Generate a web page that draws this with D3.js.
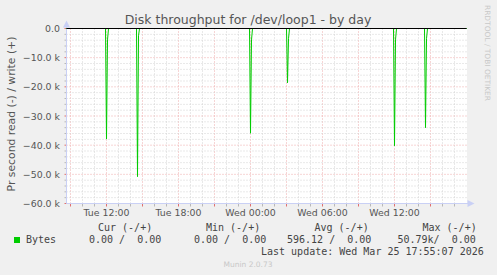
<!DOCTYPE html>
<html><head><meta charset="utf-8">
<script src="https://cdn.jsdelivr.net/npm/d3@7"></script>
<style>html,body{margin:0;padding:0;background:#F0F0F0;}svg{display:block;}text{white-space:pre;}</style>
</head><body>
<script>
// ---- data ----
const title = "Disk throughput for /dev/loop1 - by day";
const yTitle = "Pr second read (-) / write (+)";
const timeDomain = ["2026-03-24T08:40", "2026-03-25T18:00"];
const readTimes = [
  "2026-03-24T08:40",
  "2026-03-24T11:55","2026-03-24T12:00","2026-03-24T12:05","2026-03-24T12:10",
  "2026-03-24T14:30","2026-03-24T14:35","2026-03-24T14:40","2026-03-24T14:45",
  "2026-03-24T23:55","2026-03-25T00:00","2026-03-25T00:05","2026-03-25T00:10",
  "2026-03-25T03:00","2026-03-25T03:05","2026-03-25T03:10","2026-03-25T03:15",
  "2026-03-25T11:55","2026-03-25T12:00","2026-03-25T12:05","2026-03-25T12:10",
  "2026-03-25T14:30","2026-03-25T14:35","2026-03-25T14:40","2026-03-25T14:45",
  "2026-03-25T18:00"
];
const readValues = [
  0,
  0, -37900, -3900, 0,
  0, -50790, -2500, 0,
  0, -35900, -3900, 0,
  0, -18600, -3500, 0,
  0, -40200, -3900, 0,
  0, -34000, -3500, 0,
  0
];
const writeTimes = ["2026-03-24T08:40", "2026-03-25T18:00"];
const writeValues = [0, 0];
const yTicks = [0, -10000, -20000, -30000, -40000, -50000, -60000];
const xTickLabels = ["2026-03-24T12:00","2026-03-24T18:00","2026-03-25T00:00","2026-03-25T06:00","2026-03-25T12:00"];
const seriesName = "Bytes";
const legendHeaders = ["Cur (-/+)", "Min (-/+)", "Avg (-/+)", "Max (-/+)"];
const legendValues = ["0.00 /  0.00", "0.00 /  0.00", "596.12 /  0.00", "50.79k/  0.00"];
const lastUpdate = "Last update: Wed Mar 25 17:55:07 2026";
const footer = "Munin 2.0.73";
const watermark = "RRDTOOL / TOBI OETIKER";

// ---- drawing ----
const W = 497, H = 275;
const L = 66.5, R = 466.5, T = 28.5, B = 203.5;
const svg = d3.select("body").append("svg").attr("width", W).attr("height", H);
svg.append("rect").attr("width", W).attr("height", H).attr("fill", "#F0F0F0");

const parse = s => new Date(s);
const x = d3.scaleTime().domain(timeDomain.map(parse)).range([L, R]);
const y = d3.scaleLinear().domain([-60000, 0]).range([B, T]);

svg.append("rect").attr("x", 67).attr("y", 28).attr("width", 400).attr("height", 176).attr("fill", "#FFFFFF");

const minorCol = "#d2d2d2", majorCol = "#eeaaaa", axisCol = "#c9d0f5";
const g = svg.append("g");
const hours = d3.timeHour.every(1).range(x.domain()[0], x.domain()[1]);
hours.forEach(h => {
  const major = h.getHours() % 3 === 0;
  const xp = Math.round(x(h) - 0.5) + 0.5;
  g.append("line").attr("x1", xp).attr("x2", xp).attr("y1", T).attr("y2", B)
    .attr("stroke", major ? majorCol : minorCol).attr("stroke-dasharray", "1,2");
  g.append("line").attr("x1", xp).attr("x2", xp).attr("y1", B).attr("y2", B + 3)
    .attr("stroke", major ? "#e07070" : "#b8b8b8");
});
d3.range(-60000, 1, 2000).forEach(v => {
  const major = v % 10000 === 0;
  const yp = y(v);
  g.append("line").attr("x1", L).attr("x2", R).attr("y1", yp).attr("y2", yp)
    .attr("stroke", major ? majorCol : minorCol).attr("stroke-dasharray", "1,2");
  g.append("line").attr("x1", L - 2).attr("x2", L).attr("y1", yp).attr("y2", yp)
    .attr("stroke", major ? "#e07070" : "#b8b8b8");
});

svg.append("line").attr("x1", L).attr("x2", L).attr("y1", T - 2).attr("y2", B).attr("stroke", axisCol);
svg.append("line").attr("x1", L).attr("x2", R + 3).attr("y1", B).attr("y2", B).attr("stroke", axisCol);
svg.append("path").attr("d", `M${L - 3.5},${T - 1} L${L + 3.5},${T - 1} L${L},${T - 8} Z`).attr("fill", axisCol);
svg.append("path").attr("d", `M${R + 1},${B - 3.5} L${R + 1},${B + 3.5} L${R + 8},${B} Z`).attr("fill", axisCol);

const line = d3.line().x(d => x(d[0])).y(d => y(d[1]));
const readData = readTimes.map((t, i) => [parse(t), readValues[i]]);
const writeData = writeTimes.map((t, i) => [parse(t), writeValues[i]]);
svg.append("path").datum(readData).attr("d", line).attr("fill", "none").attr("stroke", "#00CC00").attr("stroke-width", 1);
svg.append("path").datum(writeData).attr("d", line).attr("fill", "none").attr("stroke", "#00CC00").attr("stroke-width", 1);
svg.append("line").attr("x1", L).attr("x2", R).attr("y1", y(0)).attr("y2", y(0)).attr("stroke", "#000").attr("stroke-width", 1);

const fmtY = v => v === 0 ? "0.0" : d3.format(".1f")(v / 1000) + " k";
svg.selectAll(".yl").data(yTicks).enter().append("text")
  .attr("x", 60).attr("y", d => y(d) + 3.5).attr("text-anchor", "end")
  .attr("font-family", "DejaVu Sans").attr("font-size", 9.4).attr("fill", "#555")
  .text(fmtY);
const fmtX = d3.timeFormat("%a %H:%M");
svg.selectAll(".xl").data(xTickLabels.map(parse)).enter().append("text")
  .attr("x", d => x(d)).attr("y", 215.5).attr("text-anchor", "middle")
  .attr("font-family", "DejaVu Sans").attr("font-size", 9.4).attr("fill", "#555")
  .text(fmtX);

svg.append("text").attr("x", 248).attr("y", 24).attr("text-anchor", "middle")
  .attr("font-family", "DejaVu Sans").attr("font-size", 12.5).attr("fill", "#555").text(title);
svg.append("text").attr("transform", "translate(14.5,114) rotate(-90)").attr("text-anchor", "middle")
  .attr("font-family", "DejaVu Sans").attr("font-size", 10.8).attr("fill", "#555").text(yTitle);
svg.append("text").attr("transform", "translate(485,5) rotate(90)").attr("text-anchor", "start")
  .attr("font-family", "DejaVu Sans").attr("font-size", 7.3).attr("fill", "#c8c8c8")
  .attr("textLength", 96).attr("lengthAdjust", "spacingAndGlyphs").text(watermark);

const mono = t => t.attr("font-family", "DejaVu Sans Mono").attr("font-size", 10).attr("fill", "#444");
svg.append("rect").attr("x", 14).attr("y", 237).attr("width", 6).attr("height", 6).attr("fill", "#00CC00");
mono(svg.append("text").attr("x", 26).attr("y", 242.5)).text(seriesName);
const hx = [98, 206, 314.5, 422.5];
const vx = [89, 194, 287, 397.5];
legendHeaders.forEach((h, i) => mono(svg.append("text").attr("x", hx[i]).attr("y", 231)).text(h));
legendValues.forEach((v, i) => mono(svg.append("text").attr("x", vx[i]).attr("y", 242.5)).text(v));
mono(svg.append("text").attr("x", 261).attr("y", 254.5)).text(lastUpdate);
svg.append("text").attr("x", 248).attr("y", 266.5).attr("text-anchor", "middle")
  .attr("font-family", "DejaVu Sans").attr("font-size", 7.5).attr("fill", "#c8c8c8").text(footer);
</script>
</body></html>
